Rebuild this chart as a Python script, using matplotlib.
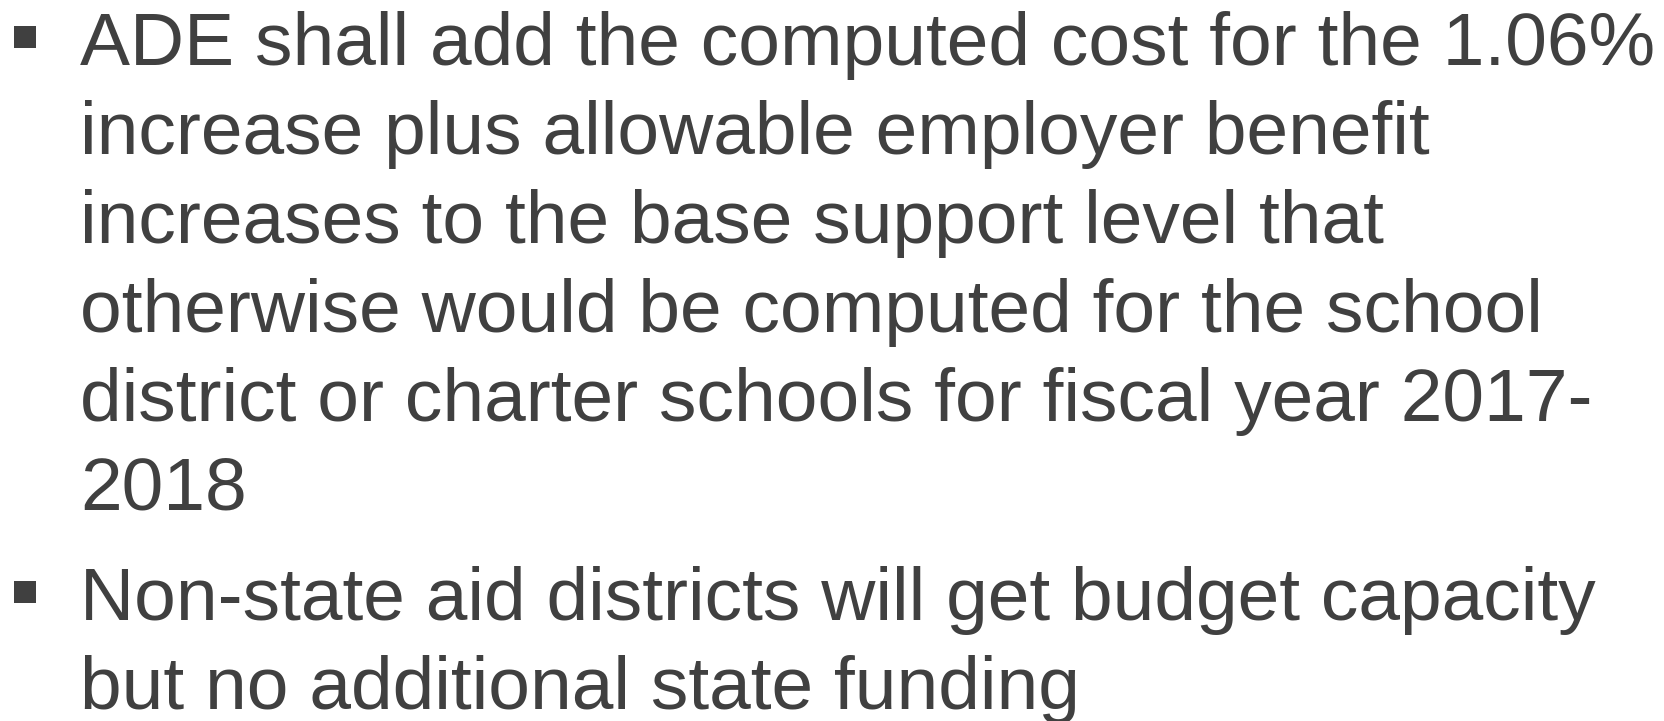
import matplotlib
matplotlib.use("Agg")
import matplotlib.pyplot as plt

bullets = [
    ["ADE shall add the computed cost for the 1.06%",
     "increase plus allowable employer benefit",
     "increases to the base support level that",
     "otherwise would be computed for the school",
     "district or charter schools for fiscal year 2017-",
     "2018"],
    ["Non-state aid districts will get budget capacity",
     "but no additional state funding"],
]

W, H = 1665, 721
fig = plt.figure(figsize=(W / 100, H / 100), dpi=100)
ax = fig.add_axes([0, 0, 1, 1])
ax.set_xlim(0, W)
ax.set_ylim(H, 0)
ax.axis("off")

color = "#404040"
fs = 54
text_x = 80
bullet_x = 25
line_gap = 89
para_gap = 21
y = 65
for lines in bullets:
    ax.plot([bullet_x], [y - 28.5], marker="s", markersize=16, color=color,
            markeredgewidth=0, linestyle="none")
    for ln in lines:
        ax.text(text_x, y, ln, fontsize=fs, family="Liberation Sans",
                color=color, va="baseline", ha="left")
        y += line_gap
    y += para_gap

fig.savefig("out.png", dpi=100)
